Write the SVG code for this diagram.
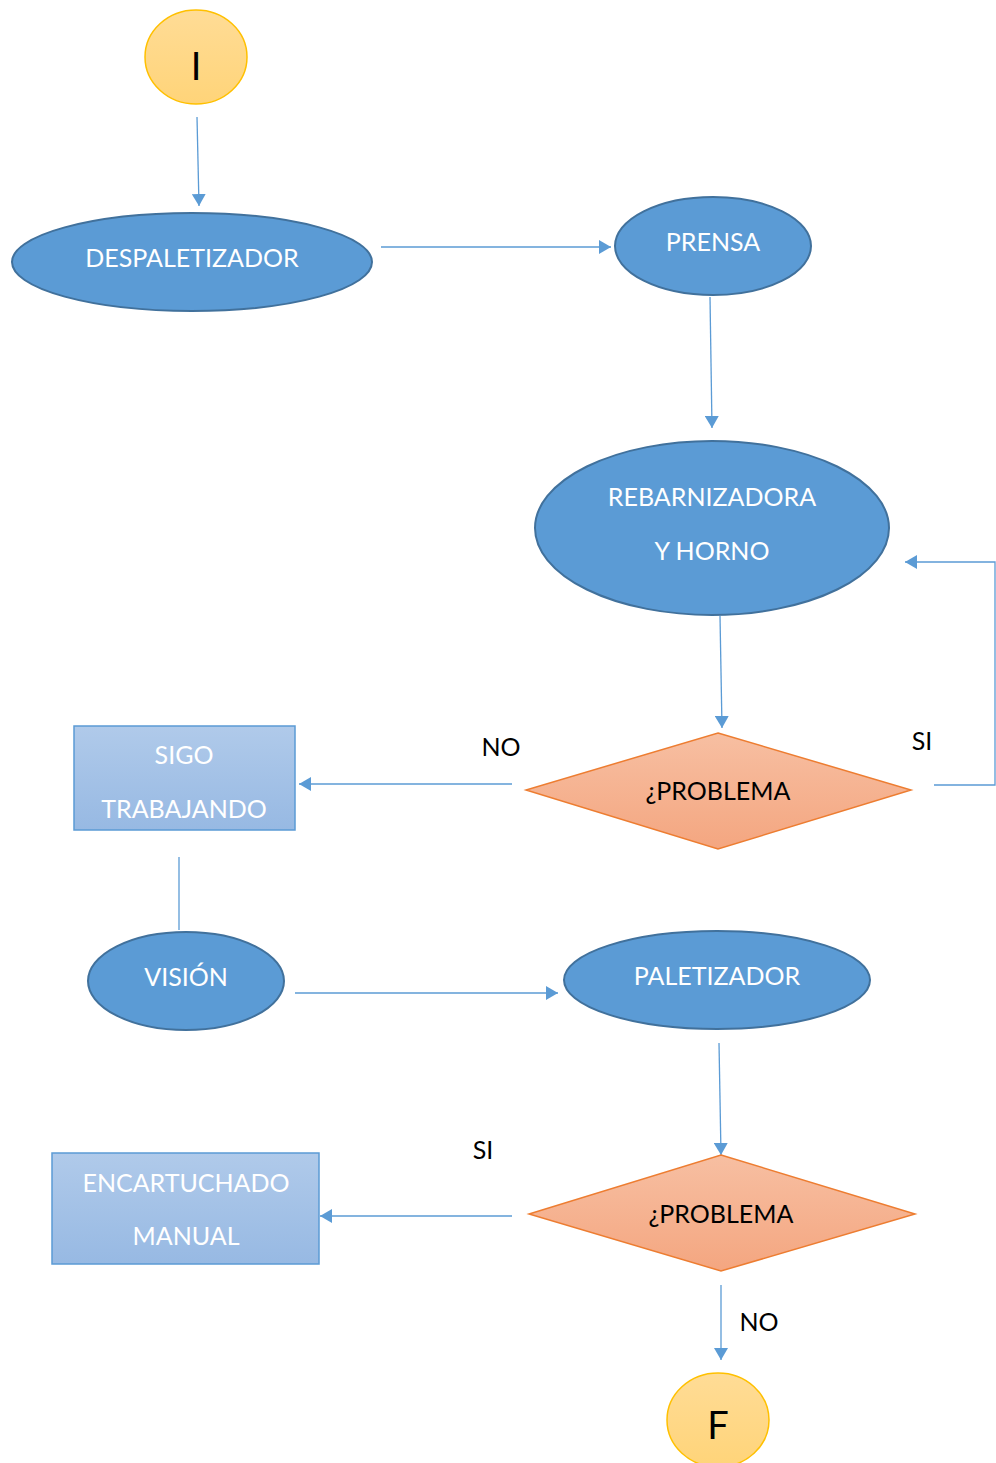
<svg xmlns="http://www.w3.org/2000/svg" width="996" height="1463" viewBox="0 0 996 1463">
<defs>
<linearGradient id="gOr" x1="0" y1="0" x2="0" y2="1"><stop offset="0" stop-color="#FFDC96"/><stop offset="1" stop-color="#FFD479"/></linearGradient>
<linearGradient id="gDi" x1="0" y1="0" x2="0" y2="1"><stop offset="0" stop-color="#F7BFA2"/><stop offset="1" stop-color="#F4A680"/></linearGradient>
<linearGradient id="gBx" x1="0" y1="0" x2="0" y2="1"><stop offset="0" stop-color="#B0CAEA"/><stop offset="1" stop-color="#97B9E3"/></linearGradient>
<marker id="ah" viewBox="0 0 12 14" refX="12" refY="7" markerWidth="12" markerHeight="14" markerUnits="userSpaceOnUse" orient="auto"><path d="M0,0 L12,7 L0,14 z" fill="#5B9BD5"/></marker>
<style>
.t{font-family:Lato,"Open Sans","Liberation Sans",sans-serif;font-size:25px;text-anchor:middle}
.w{fill:#fff}.k{fill:#000}
.el{fill:#5B9BD5;stroke:#41719C;stroke-width:2}
.ci{fill:url(#gOr);stroke:#FFC000;stroke-width:1.5}
.di{fill:url(#gDi);stroke:#ED7D31;stroke-width:1.5}
.bx{fill:url(#gBx);stroke:#5B9BD5;stroke-width:1.5}
.c{fill:none;stroke:#5B9BD5;stroke-width:1.3}
.big{font-size:38px}
</style>
</defs>
<g id="connectors">
<path class="c" d="M197,117 L199,206" marker-end="url(#ah)"/>
<path class="c" d="M381,247 L611,247" marker-end="url(#ah)"/>
<path class="c" d="M710,297 L712,428" marker-end="url(#ah)"/>
<path class="c" d="M720,616 L722,728" marker-end="url(#ah)"/>
<path class="c" d="M934,785 L995,785 L995,562 L905,562" marker-end="url(#ah)"/>
<path class="c" d="M512,784 L299,784" marker-end="url(#ah)"/>
<path class="c" d="M179,857 L179,930"/>
<path class="c" d="M295,993 L558,993" marker-end="url(#ah)"/>
<path class="c" d="M719,1043 L721,1155" marker-end="url(#ah)"/>
<path class="c" d="M512,1216 L320,1216" marker-end="url(#ah)"/>
<path class="c" d="M721,1285 L721,1360" marker-end="url(#ah)"/>
<text class="t k" x="501" y="756">NO</text>
<text class="t k" x="922" y="750">SI</text>
<text class="t k" x="483" y="1159">SI</text>
<text class="t k" x="759" y="1331">NO</text>
</g>
<g id="inicio">
<ellipse class="ci" cx="196" cy="57" rx="51" ry="47"/>
<text class="t k big" x="196" y="80">I</text>
</g>
<g id="despaletizador">
<ellipse class="el" cx="192" cy="262" rx="180" ry="49"/>
<text class="t w" x="192" y="267">DESPALETIZADOR</text>
</g>
<g id="prensa">
<ellipse class="el" cx="713" cy="246" rx="98" ry="49"/>
<text class="t w" x="713" y="251">PRENSA</text>
</g>
<g id="rebarnizadora">
<ellipse class="el" cx="712" cy="528" rx="177" ry="87"/>
<text class="t w" x="712" y="506">REBARNIZADORA</text>
<text class="t w" x="712" y="560">Y HORNO</text>
</g>
<g id="problema1">
<polygon class="di" points="718,733 911,790 718,849 526,790"/>
<text class="t k" x="718" y="800">¿PROBLEMA</text>
</g>
<g id="sigo">
<rect class="bx" x="74" y="726" width="221" height="104"/>
<text class="t w" x="184" y="764">SIGO</text>
<text class="t w" x="184" y="818">TRABAJANDO</text>
</g>
<g id="vision">
<ellipse class="el" cx="186" cy="981" rx="98" ry="49"/>
<text class="t w" x="186" y="986">VISIÓN</text>
</g>
<g id="paletizador">
<ellipse class="el" cx="717" cy="980" rx="153" ry="49"/>
<text class="t w" x="717" y="985">PALETIZADOR</text>
</g>
<g id="problema2">
<polygon class="di" points="721,1155 915,1214 721,1271 529,1214"/>
<text class="t k" x="721" y="1223">¿PROBLEMA</text>
</g>
<g id="encartuchado">
<rect class="bx" x="52" y="1153" width="267" height="111"/>
<text class="t w" x="186" y="1192">ENCARTUCHADO</text>
<text class="t w" x="186" y="1245">MANUAL</text>
</g>
<g id="fin">
<ellipse class="ci" cx="718" cy="1420" rx="51" ry="47"/>
<text class="t k big" x="718" y="1439">F</text>
</g>
</svg>
